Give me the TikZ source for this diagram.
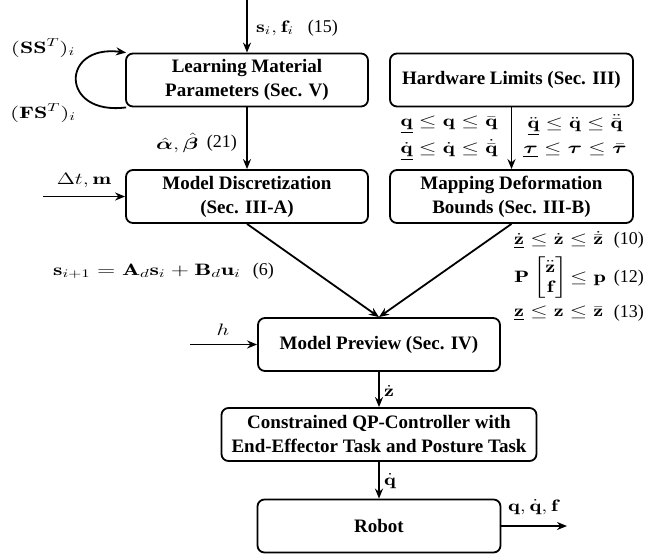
\documentclass[tikz,border=0pt]{standalone}
\usepackage{fix-cm}
\usepackage{amsmath,bm,graphicx}
\usepackage{fontspec}
\newfontfamily\tnr{Liberation Serif}
\usetikzlibrary{arrows.meta}
\newcommand{\wm}[2][1.35]{\scalebox{#1}[1]{$#2$}}
\tikzset{
 box/.style={draw, line width=1.8pt, rounded corners=7pt, minimum height=53pt,
   font=\tnr\bfseries\fontsize{19}{24}\selectfont, align=center, inner sep=0pt},
 arr/.style={line width=1.8pt, -{Stealth[length=10pt,width=8pt]}},
 lbl/.style={font=\fontsize{16.5}{20}\selectfont, inner sep=0pt},
 num/.style={font=\tnr\fontsize{18}{20}\selectfont, inner sep=0pt},
}
\begin{document}
\begin{tikzpicture}[x=1pt,y=-1pt]
\useasboundingbox (0,0) rectangle (662,555);
\node[box, minimum width=242pt] (learn) at (247,80) {Learning Material\\Parameters (Sec. V)};
\node[box, minimum width=243pt] (hw) at (511.5,80) {Hardware Limits (Sec. III)};
\node[box, minimum width=242pt] (disc) at (247,196.5) {Model Discretization\\(Sec. III-A)};
\node[box, minimum width=243pt] (map) at (511.5,196.5) {Mapping Deformation\\Bounds (Sec. III-B)};
\node[box, minimum width=242pt] (prev) at (379,344.5) {Model Preview (Sec. IV)};
\node[box, minimum width=315pt] (qp) at (379,434.5) {Constrained QP-Controller with\\End-Effector Task and Posture Task};
\node[box, minimum width=243pt] (robot) at (379,526) {Robot};

\coordinate (top) at (247,0);
\coordinate (dtin) at (43,196.5);
\coordinate (hin) at (190,344.5);
\coordinate (out) at (567,526);

\draw[arr] (top) -- (learn);
\draw[arr] (learn) -- (disc);
\draw[arr] (hw) -- (map);
\draw[arr] (dtin) -- (disc.west);
\draw[arr] (disc.south) -- (prev.north);
\draw[arr] (map.south) -- (prev.north);
\draw[arr] (hin) -- (prev.west);
\draw[arr] (prev) -- (qp);
\draw[arr] (qp) -- (robot);
\draw[arr] (robot.east) -- (out);
\draw[arr] ([xshift=1pt]learn.south west) .. controls (60,116) and (60,44) .. ([xshift=1pt]learn.north west);

\node[lbl, anchor=west] (l15) at (256,28) {\wm{\mathbf{s}_i, \mathbf{f}_i}};
\node[num, anchor=east] (n15) at (338,28) {(15)};
\node[lbl, anchor=west] (l21) at (156,143) {\wm{\hat{\bm\alpha}, \hat{\bm\beta}}};
\node[num, anchor=east] (n21) at (237,143) {(21)};
\node[lbl] (ldt) at (84,180) {\wm{\Delta t, \mathbf{m}}};
\node[lbl] (lss) at (43,48) {\wm[1.45]{(\mathbf{SS}^T)_i}};
\node[lbl] (lfs) at (43,113) {\wm[1.45]{(\mathbf{FS}^T)_i}};
\node[lbl] (hq) at (449,125) {\wm[1.38]{\underline{\mathbf q} \leq \mathbf q \leq \bar{\mathbf q}}};
\node[lbl] (hdq) at (449,150) {\wm[1.38]{\underline{\dot{\mathbf q}} \leq \dot{\mathbf q} \leq \dot{\bar{\mathbf q}}}};
\node[lbl] (hddq) at (575,125) {\wm{\underline{\ddot{\mathbf q}} \leq \ddot{\mathbf q} \leq \ddot{\bar{\mathbf q}}}};
\node[lbl] (htau) at (575,150) {\wm{\underline{\bm\tau} \leq \bm\tau \leq \bar{\bm\tau}}};
\node[lbl, anchor=west] (leq6) at (53,271) {\wm[1.45]{\mathbf{s}_{i+1} = \mathbf{A}_d\mathbf{s}_i + \mathbf{B}_d\mathbf{u}_i}};
\node[num, anchor=east] (n6) at (274,271) {(6)};
\node[lbl] (lh) at (223,330) {\wm{h}};
\node[lbl, anchor=west] (l10) at (514,240) {\wm{\underline{\dot{\mathbf z}} \leq \dot{\mathbf z} \leq \dot{\bar{\mathbf z}}}};
\node[num, anchor=east] (n10) at (644,240) {(10)};
\node[lbl, anchor=west] (l12) at (514,278) {\wm{\mathbf P \begin{bmatrix}\ddot{\mathbf z}\\ \mathbf f\end{bmatrix}\! \leq \mathbf p}};
\node[num, anchor=east] (n12) at (644,278) {(12)};
\node[lbl, anchor=west] (l13) at (514,313) {\wm{\underline{\mathbf z} \leq \mathbf z \leq \bar{\mathbf z}}};
\node[num, anchor=east] (n13) at (644,313) {(13)};
\node[lbl, anchor=west] (lzd) at (384,391) {\wm{\dot{\mathbf z}}};
\node[lbl, anchor=west] (lqd) at (384,481) {\wm{\dot{\mathbf q}}};
\node[lbl] (lout) at (533,507) {\wm{\mathbf q, \dot{\mathbf q}, \mathbf f}};
\end{tikzpicture}
\end{document}
